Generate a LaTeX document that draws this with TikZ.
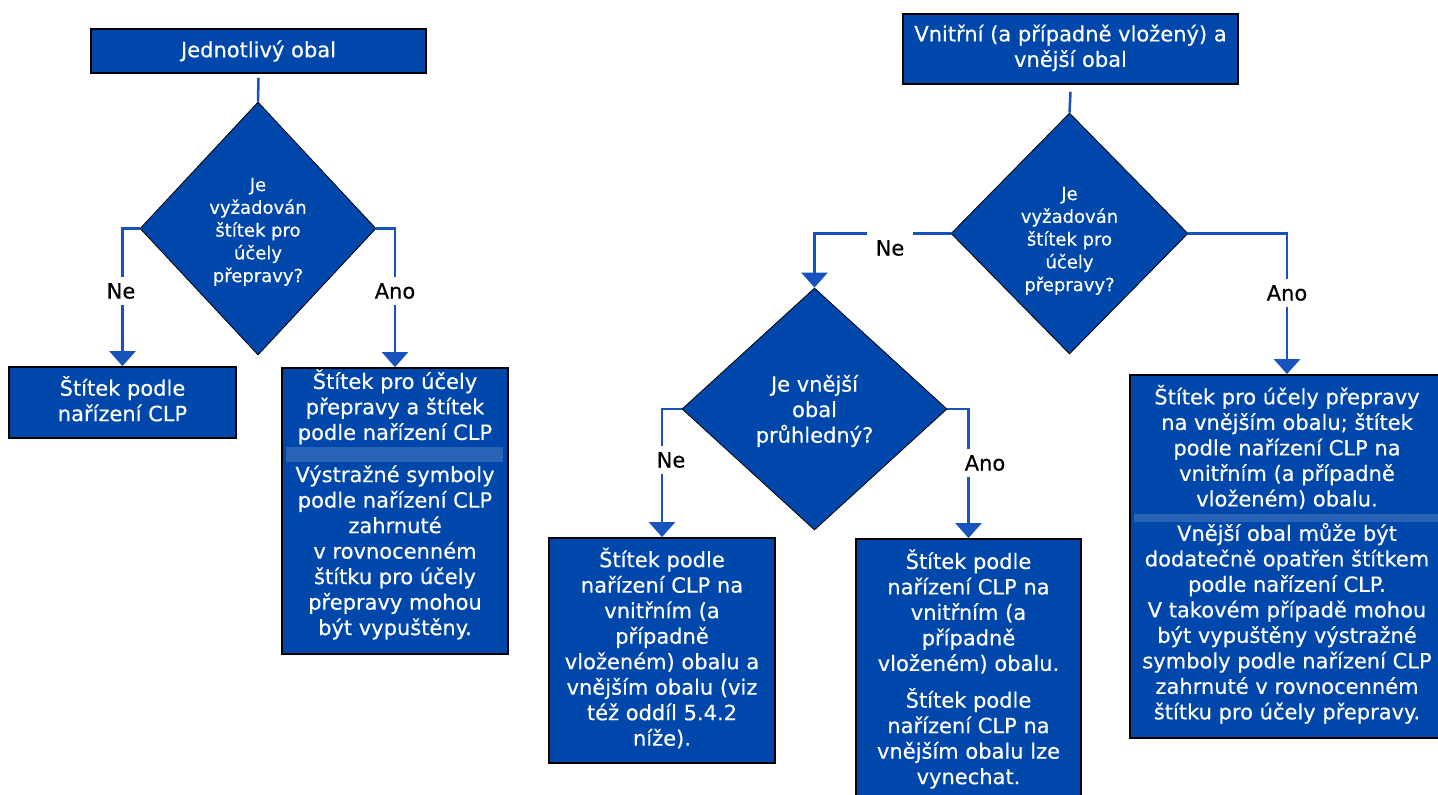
\documentclass[tikz,border=0pt]{standalone}
\usepackage{fontspec}
\setmainfont[FakeBold=0.4]{DejaVu Sans}
\usetikzlibrary{arrows.meta,shapes.geometric}
\definecolor{boxblue}{RGB}{0,71,171}
\definecolor{bandblue}{RGB}{42,98,184}
\definecolor{lineblue}{RGB}{24,82,188}
\newcommand\myboxfont{\fontsize{21}{25.5}\selectfont}
\newcommand\mydiafont{\fontsize{18}{22.75}\selectfont}
\newcommand\mylblfont{\fontsize{21}{24}\selectfont}
\begin{document}
\begin{tikzpicture}[x=1pt,y=-1pt,
  box/.style={draw=black, line width=1.8pt, fill=boxblue, rectangle, inner sep=0pt, text=white, align=center, font=\myboxfont},
  dia/.style={draw=black, line width=0.8pt, fill=boxblue, diamond, inner sep=0pt},
  txt/.style={text=white, align=center, inner sep=0pt, font=\myboxfont},
  dtxt/.style={text=white, align=center, inner sep=0pt, font=\mydiafont},
  conn/.style={draw=lineblue, line width=2.5pt},
  arr/.style={conn, -{Triangle[width=26pt,length=15pt]}},
  lbl/.style={fill=white, text=black, font=\mylblfont, inner sep=1pt, minimum height=28pt}
]
\useasboundingbox (0,0) rectangle (1438,795);
\fill[white] (0,0) rectangle (1438,795);

% ---------- left flow ----------
\node[box, minimum width=335pt, minimum height=44pt] (t1) at (258.5,51) {Jednotlivý obal};
\node[dia, minimum width=236pt, minimum height=253pt] (d1) at (258,228.5) {};
\node[dtxt] (d1t) at (258,232) {\strut Je\\vyžadován\\štítek pro\\účely\\přepravy?\strut};
\node[box, minimum width=227pt, minimum height=71pt] (bA) at (122.5,402.5) {\strut Štítek podle\\nařízení CLP\strut};
\node[box, minimum width=226pt, minimum height=286pt] (bB) at (395,511) {};
\fill[bandblue] (286,447) rectangle (503,462);
\node[txt] (bBa) at (395,408.5) {\strut Štítek pro účely\\přepravy a štítek\\podle nařízení CLP\strut};
\node[txt] (bBb) at (395,553.5) {\strut Výstražné symboly\\podle nařízení CLP\\zahrnuté\\v~rovnocenném\\štítku pro účely\\přepravy mohou\\být vypuštěny.\strut};

% ---------- right flow ----------
\node[box, minimum width=335pt, minimum height=70pt] (t2) at (1070.5,49) {\strut Vnitřní (a případně vložený) a\\vnější obal\strut};
\node[dia, minimum width=237pt, minimum height=241pt] (d2) at (1069.5,233.5) {};
\node[dtxt] (d2t) at (1069.5,241) {\strut Je\\vyžadován\\štítek pro\\účely\\přepravy?\strut};
\node[dia, minimum width=265pt, minimum height=242pt] (d3) at (814.5,409) {};
\node[txt] (d3t) at (814.5,412) {\strut Je vnější\\obal\\průhledný?\strut};

\node[box, minimum width=226pt, minimum height=225pt] (bC) at (662,650.5) {\strut Štítek podle\\nařízení CLP na\\vnitřním (a\\případně\\vloženém) obalu a\\vnějším obalu (viz\\též oddíl 5.4.2\\níže).\strut};
\node[box, minimum width=225pt, minimum height=266pt] (bD) at (968.5,672) {};
\node[txt] (bDa) at (968.5,614) {\strut Štítek podle\\nařízení CLP na\\vnitřním (a\\případně\\vloženém) obalu.\strut};
\node[txt] (bDb) at (968.5,740) {\strut Štítek podle\\nařízení CLP na\\vnějším obalu lze\\vynechat.\strut};

\node[box, minimum width=314pt, minimum height=363pt] (rb) at (1287,556.5) {};
\fill[bandblue] (1134,514) rectangle (1442,522);
\node[txt] (rba) at (1287,449.5) {\strut Štítek pro účely přepravy\\na vnějším obalu; štítek\\podle nařízení CLP na\\vnitřním (a případně\\vloženém) obalu.\strut};
\node[txt] (rbb) at (1287,625) {\strut Vnější obal může být\\dodatečně opatřen štítkem\\podle nařízení CLP.\\V takovém případě mohou\\být vypuštěny výstražné\\symboly podle nařízení CLP\\zahrnuté v rovnocenném\\štítku pro účely přepravy.\strut};

% ---------- connectors ----------
\draw[conn] ([yshift=-4pt]t1.south) -- (d1.north);
\draw[arr] (d1.west) -| (bA.north);
\draw[arr] (d1.east) -| (bB.north);
\draw[conn] ([yshift=-7pt]t2.south) -- (d2.north);
\draw[arr] (d2.west) -| (d3.north);
\draw[arr] (d2.east) -| (rb.north);
\draw[arr] (d3.west) -| (bC.north);
\draw[arr] (d3.east) -| (bD.north);

% ---------- labels ----------
\node[lbl] (ne1) at (121,291) {Ne};
\node[lbl] (ano1) at (395,291) {Ano};
\node[lbl, minimum width=46pt, minimum height=34pt] (ne2) at (890,248) {Ne};
\node[lbl] (ano2) at (1287,293) {Ano};
\node[lbl] (ne3) at (671,460) {Ne};
\node[lbl] (ano3) at (985,463) {Ano};
\end{tikzpicture}
\end{document}
